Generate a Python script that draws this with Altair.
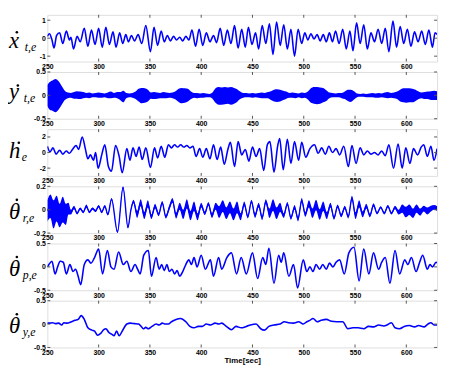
import altair as alt
import pandas as pd

BLUE = "#0000ff"
W, H = 396, 47.5
X_DOMAIN = [250, 630]
X_TICKS = [250, 300, 350, 400, 450, 500, 550, 600]

MAIN_LABELS = ["x", "y", "h", "\u03b8", "\u03b8", "\u03b8"]
SUB_LABELS = ["t,e", "t,e", "e", "r,e", "p,e", "y,e"]
Y_DOMAINS = [[-1.3, 1.3], [-0.5, 0.5], [-3, 3], [-0.2, 0.2], [-0.5, 0.5], [-0.5, 0.5]]
Y_TICKS = [[-1, 0, 1], [-0.5, 0, 0.5], [-2, 0, 2], [-0.2, 0, 0.2], [-0.5, 0, 0.5], [-0.5, 0, 0.5]]

# panel 1: x_dot (time, value) at read extrema
XDOT = [(250, 0.1), (252, 0.25), (254.5, -0.1), (256.5, -0.55), (259, 0.15), (262, 0.3), (265, -0.3),
        (268.5, 0.4), (271.5, -0.1), (273, 0.05), (275.5, -0.6), (279, 0.1), (282, -0.2), (286, 0.55),
        (289.5, -0.45), (293, 0.45), (296.5, -0.35), (300, 0.55), (303.5, -0.5), (307, 0.6), (310.5, -0.35),
        (314, 0.35), (317, -0.5), (320.5, 0.3), (323.5, -0.3), (326.5, 0.2), (329, -0.2), (332, 0.15),
        (335, -0.15), (338.5, 0.2), (342, -0.3), (346, 0.7), (350.5, -0.75), (354, 0.6), (357.5, -0.4),
        (361, 0.4), (364, -0.2), (367, 0.15), (370, -0.15), (373, 0.1), (376, -0.1), (379, 0.05),
        (382, -0.15), (385, 0.1), (388, -0.1), (391, 0.45), (394.5, -0.45), (398, 0.5), (401.5, -0.4),
        (405, 0.3), (408.5, -0.2), (412, 0.15), (415, -0.25), (418.5, 0.55), (422, -0.4), (425.5, 0.45),
        (429, -0.3), (432.5, 0.7), (436, -0.55), (439.5, 0.5), (443, -0.5), (446, 0.6), (449.5, -0.35),
        (453, 0.3), (456, -0.6), (459.5, 0.7), (463, -0.3), (466.5, 0.8), (470, -0.9), (473.5, 0.9),
        (477, -0.4), (480.5, 0.75), (484, -0.6), (487.5, 0.5), (491, -1.0), (494.5, 0.5), (498, -0.3),
        (501, 0.3), (504, -0.1), (507, 0.25), (510, -0.05), (513, 0.2), (516, -0.15), (519, 0.2),
        (522, -0.2), (525, 0.3), (528, -0.2), (531, 0.4), (534.5, -0.3), (538, 0.5), (541.5, -0.6),
        (545, 0.4), (548, -0.7), (551.5, 0.85), (555, -0.3), (558.5, 0.75), (562, -0.6), (565.5, 0.3),
        (569, -0.2), (572.5, 0.5), (576, -0.3), (579.5, 0.55), (583, -0.75), (587, 0.95), (590.5, -0.5),
        (594, 0.65), (597.5, -0.3), (601, 0.5), (604.5, -0.45), (608, 0.35), (611.5, -0.2), (615, 0.4),
        (618.5, -0.35), (622, 0.45), (625.5, -0.5), (628, 0.3), (630, 0.2)]

# panel 2: y_dot noise envelope (time, upper, lower)
YDOT = [(250, 0.22, -0.22), (252, 0.28, -0.3), (255, 0.32, -0.33), (258, 0.35, -0.36), (261, 0.3, -0.3),
        (264, 0.2, -0.2), (267, 0.1, -0.1), (270, 0.06, -0.06), (273, 0.05, -0.05), (276, 0.07, -0.07),
        (279, 0.09, -0.07), (282, 0.08, -0.08), (285, 0.07, -0.06), (288, 0.05, -0.05), (291, 0.06, -0.06),
        (294, 0.04, -0.04), (297, 0.05, -0.04), (300, 0.06, -0.05), (303, 0.05, -0.05), (306, 0.04, -0.04),
        (309, 0.06, -0.06), (312, 0.08, -0.06), (315, 0.05, -0.05), (318, 0.07, -0.06), (321, 0.07, -0.1),
        (324, 0.1, -0.15), (327, 0.05, -0.06), (330, 0.04, -0.04), (333, 0.05, -0.05), (336, 0.08, -0.08),
        (339, 0.14, -0.13), (342, 0.16, -0.17), (345, 0.15, -0.16), (348, 0.12, -0.13), (351, 0.06, -0.07),
        (354, 0.07, -0.08), (357, 0.06, -0.07), (360, 0.05, -0.06), (363, 0.07, -0.06), (366, 0.06, -0.06),
        (369, 0.05, -0.05), (372, 0.06, -0.06), (375, 0.09, -0.09), (378, 0.14, -0.14), (381, 0.16, -0.17),
        (384, 0.15, -0.16), (387, 0.14, -0.13), (390, 0.08, -0.08), (393, 0.05, -0.05), (396, 0.05, -0.06),
        (399, 0.04, -0.05), (402, 0.05, -0.05), (405, 0.04, -0.04), (408, 0.03, -0.04), (411, 0.06, -0.07),
        (414, 0.15, -0.16), (417, 0.18, -0.2), (420, 0.17, -0.2), (423, 0.18, -0.19), (426, 0.17, -0.18),
        (429, 0.18, -0.2), (432, 0.16, -0.18), (435, 0.13, -0.14), (438, 0.08, -0.08), (441, 0.05, -0.05),
        (444, 0.05, -0.04), (447, 0.04, -0.04), (450, 0.05, -0.05), (453, 0.04, -0.04), (456, 0.05, -0.05),
        (459, 0.06, -0.06), (462, 0.05, -0.06), (465, 0.07, -0.06), (468, 0.09, -0.1), (471, 0.12, -0.13),
        (474, 0.13, -0.14), (477, 0.12, -0.13), (480, 0.1, -0.1), (483, 0.08, -0.07), (486, 0.05, -0.05),
        (489, 0.06, -0.05), (492, 0.05, -0.06), (495, 0.04, -0.04), (498, 0.06, -0.06), (501, 0.05, -0.05),
        (504, 0.08, -0.09), (507, 0.15, -0.16), (510, 0.18, -0.18), (513, 0.18, -0.19), (516, 0.17, -0.18),
        (519, 0.16, -0.15), (522, 0.11, -0.12), (525, 0.06, -0.06), (528, 0.05, -0.04), (531, 0.04, -0.04),
        (534, 0.05, -0.04), (537, 0.05, -0.06), (540, 0.08, -0.08), (543, 0.12, -0.12), (546, 0.12, -0.14),
        (549, 0.09, -0.09), (552, 0.04, -0.04), (555, 0.03, -0.03), (558, 0.04, -0.03), (561, 0.03, -0.04),
        (564, 0.04, -0.04), (567, 0.05, -0.04), (570, 0.04, -0.05), (573, 0.05, -0.05), (576, 0.04, -0.04),
        (579, 0.06, -0.05), (582, 0.07, -0.06), (585, 0.05, -0.05), (588, 0.06, -0.06), (591, 0.08, -0.08),
        (594, 0.12, -0.13), (597, 0.15, -0.15), (600, 0.15, -0.16), (603, 0.15, -0.15), (606, 0.14, -0.15),
        (609, 0.12, -0.12), (612, 0.08, -0.08), (615, 0.06, -0.06), (618, 0.07, -0.08), (621, 0.08, -0.08),
        (624, 0.09, -0.1), (627, 0.1, -0.1), (630, 0.09, -0.1)]

# panel 3: h_dot
HDOT = [(250, 0.8), (252.5, 0.1), (255.5, 0.6), (258.5, -0.2), (262, 0.3), (265, -0.2), (268.5, 0.2),
        (271.5, -0.1), (275, 0.5), (278, 0.9), (280.5, 0.4), (284, 2.0), (287, 0.5), (289.5, -0.8),
        (292, -0.3), (295, -1.0), (297, 0.0), (299.5, -2.0), (303, -0.3), (306, 1.0), (309.5, -1.8),
        (312.5, -2.4), (316.5, 0.9), (320, -0.5), (323, -2.6), (327.5, 0.5), (330.5, -1.0), (333.5, 0.6),
        (336.5, -0.5), (339.5, 0.7), (342.5, -0.9), (346, 0.6), (350.5, -1.9), (354.5, 0.6), (357.5, -0.7),
        (361, 0.8), (364.5, -0.6), (368, 1.0), (371, 0.6), (374, 1.0), (377, 0.7), (380, 1.0), (383, 0.7),
        (386, 0.9), (389, 0.6), (392, 0.8), (395, -0.5), (398.5, 0.5), (401.5, -0.6), (405, 0.5),
        (408.5, -0.8), (412, 1.0), (415.5, -0.9), (419, 0.7), (422.5, -1.5), (426, 0.4), (428.5, 1.3),
        (432.5, -1.8), (436, 1.4), (439.5, -0.3), (443, 0.4), (446.5, -1.1), (450, 0.7), (453.5, -0.5),
        (457, 0.5), (461, -2.3), (464.5, 1.0), (467, 1.4), (471, -2.5), (474.5, 0.8), (476.5, 1.8),
        (480, -2.2), (484, 1.7), (487.5, -1.4), (491, 1.4), (495, -1.0), (498, 1.3), (502, -0.6),
        (506, 0.5), (510.5, 1.0), (514, -0.1), (517.5, 0.6), (521, -0.2), (524.5, 0.8), (528, 0.0),
        (531.5, 0.5), (535, -0.3), (539, 0.8), (543.5, -1.8), (547, 0.9), (551, -1.4), (555, 0.6),
        (558.5, -0.3), (562, 0.2), (565.5, -0.2), (569, 0.0), (572.5, -0.3), (576, 0.2), (579.5, -0.4),
        (583, 1.0), (587.5, -2.0), (592, 1.1), (596, -2.0), (599.5, 0.6), (603.5, -1.4), (607, 0.5),
        (611, -0.3), (614.5, 0.7), (617, 1.0), (620.5, -0.5), (624, 0.8), (627, -1.0), (630, 0.5)]

# panel 4: theta_r dot (time, centre, noise half-width)
THR = [(250, -0.01, 0.09), (253, 0.03, 0.1), (256, -0.04, 0.12), (259, 0.01, 0.11), (262, -0.05, 0.1),
       (265, 0.0, 0.11), (268, -0.04, 0.09), (270.5, 0.01, 0.05), (273, -0.02, 0.02), (276, 0.02, 0.015),
       (279, -0.03, 0.01), (282, 0.01, 0.01), (285, -0.02, 0.01), (288, 0.03, 0.015), (291, -0.02, 0.01),
       (294, 0.01, 0.01), (297, -0.01, 0.01), (300, 0.03, 0.01), (303, -0.02, 0.01), (306, 0.03, 0.01),
       (309, -0.04, 0.01), (312.6, 0.09, 0.01), (318.4, -0.19, 0.01), (323.8, 0.19, 0.01),
       (328.6, -0.15, 0.01), (331.5, 0.0, 0.01), (334, 0.07, 0.015), (337.5, -0.04, 0.03), (341, 0.06, 0.03),
       (344.5, -0.05, 0.03), (348, 0.05, 0.03), (351.5, -0.06, 0.02), (355, 0.03, 0.02), (358.5, -0.04, 0.015),
       (362, 0.06, 0.015), (365.5, -0.06, 0.015), (369, 0.02, 0.02), (372, 0.08, 0.02), (375.5, -0.05, 0.025),
       (379, 0.03, 0.03), (382.5, -0.04, 0.04), (386, 0.05, 0.04), (389.5, -0.05, 0.04), (393, 0.03, 0.04),
       (396.5, -0.06, 0.03), (400, 0.04, 0.02), (403.5, -0.03, 0.015), (407, 0.05, 0.015), (410.5, -0.05, 0.02),
       (414, 0.03, 0.03), (417.5, -0.02, 0.05), (421, 0.03, 0.05), (424.5, -0.03, 0.05), (428, 0.02, 0.05),
       (431.5, -0.04, 0.05), (435, 0.02, 0.05), (438.5, -0.06, 0.03), (442, 0.05, 0.02), (445.5, -0.06, 0.015),
       (449, 0.07, 0.015), (452.5, -0.05, 0.02), (456, 0.04, 0.02), (459.5, -0.07, 0.02), (463, 0.07, 0.02),
       (466.5, -0.03, 0.04), (470, 0.04, 0.05), (473.5, -0.03, 0.05), (477, 0.02, 0.04), (480.5, -0.05, 0.02),
       (484, 0.05, 0.015), (487.5, -0.07, 0.015), (491, 0.02, 0.02), (494.5, -0.08, 0.02), (498, 0.08, 0.02),
       (501.5, -0.04, 0.02), (505, 0.05, 0.03), (508.5, -0.03, 0.04), (512, 0.04, 0.045), (515.5, -0.04, 0.045),
       (519, 0.03, 0.04), (522.5, -0.05, 0.03), (526, 0.04, 0.02), (529.5, -0.07, 0.015), (533, 0.03, 0.015),
       (536.5, -0.05, 0.015), (540, 0.02, 0.015), (543.5, -0.06, 0.015), (547, 0.1, 0.02), (550.5, -0.05, 0.03),
       (554, 0.05, 0.03), (557.5, -0.04, 0.025), (561, 0.03, 0.02), (564.5, -0.05, 0.015), (568, 0.04, 0.015),
       (571.5, -0.03, 0.01), (575, 0.02, 0.01), (578.5, -0.03, 0.01), (582, 0.03, 0.01), (585.5, -0.03, 0.01),
       (589, 0.02, 0.015), (592.5, -0.02, 0.02), (596, 0.01, 0.035), (599.5, -0.02, 0.045), (603, 0.0, 0.045),
       (606.5, -0.03, 0.04), (610, 0.01, 0.035), (613.5, -0.02, 0.03), (617, 0.01, 0.025), (620.5, -0.01, 0.03),
       (624, 0.01, 0.025), (627, 0.02, 0.02), (630, 0.01, 0.02)]

# panel 5: theta_p dot
THP = [(250, 0.0), (251.5, 0.05), (254.5, 0.12), (257.5, -0.15), (260, 0.0), (262.5, 0.12), (265.5, 0.1),
       (268.5, -0.15), (272, 0.05), (275, -0.1), (277.5, -0.05), (280, -0.2), (282.5, -0.38), (286, 0.05),
       (289.5, 0.15), (292.5, 0.08), (296, 0.2), (300, 0.38), (303.8, -0.15), (308.5, 0.35), (312, 0.0),
       (315, -0.05), (319.5, 0.32), (324, 0.05), (327.5, 0.12), (331.5, -0.1), (335.5, 0.05), (338, -0.05),
       (340.5, -0.15), (344, 0.25), (348.5, 0.35), (351.5, -0.2), (356, 0.2), (359, -0.05), (361.5, 0.05),
       (364, -0.08), (366.5, 0.05), (369, -0.1), (371.5, -0.05), (374, -0.15), (376.5, -0.08), (379, -0.2),
       (382, -0.1), (385, 0.05), (388, 0.15), (390.5, 0.05), (393, 0.2), (396, 0.0), (400, 0.25),
       (404, -0.05), (409, 0.15), (412, -0.2), (417, 0.2), (420, -0.05), (425, 0.2), (429.5, 0.3),
       (434.5, -0.15), (439, 0.2), (444, -0.15), (450, 0.3), (455, -0.25), (460, 0.2), (463, 0.05),
       (466, 0.4), (471, -0.35), (475.5, 0.25), (478, 0.1), (480.5, 0.3), (485.5, -0.2), (490, 0.05),
       (494, -0.45), (499.5, 0.15), (503, -0.1), (506, 0.0), (509, -0.1), (512, 0.05), (515.5, -0.05),
       (518.5, 0.05), (522, -0.05), (525, 0.08), (528.5, 0.0), (531.5, 0.1), (535, 0.15), (539.5, -0.15),
       (544, 0.3), (549, 0.42), (554, -0.3), (558.5, 0.38), (563.5, -0.15), (568, 0.3), (573, -0.05),
       (576, 0.1), (579.5, 0.2), (584, -0.35), (589, 0.35), (593.5, -0.15), (598.5, 0.15), (601.5, 0.05),
       (605, 0.2), (609.5, -0.1), (613, 0.1), (616, 0.25), (620.5, -0.05), (623, 0.05), (625.5, 0.0),
       (629, 0.1), (630, 0.08)]

# panel 6: theta_y dot
THY = [(250, 0.03), (251.5, 0.02), (255, 0.03), (258, 0.01), (261, 0.02), (264, -0.02), (266, 0.03),
       (269, 0.02), (273.5, 0.05), (277, 0.08), (280, 0.1), (283, 0.18), (286, 0.1), (289.5, -0.08),
       (293.5, -0.13), (296, -0.15), (299, -0.24), (302, -0.2), (305, -0.12), (307, -0.1), (310, -0.18),
       (313, -0.22), (315, -0.25), (317.5, -0.15), (320, -0.25), (323, -0.15), (327.5, 0.0), (331, 0.02),
       (335, 0.01), (339, 0.0), (341.5, -0.05), (343.5, -0.1), (346, -0.07), (348.5, -0.1), (352, -0.05),
       (356, 0.0), (359, -0.02), (362, 0.02), (365, 0.0), (368, 0.0), (371, 0.05), (375.5, 0.1), (380, 0.12),
       (385, 0.05), (389, -0.05), (393, -0.08), (397, -0.05), (401, -0.05), (405, 0.0), (409, -0.02),
       (413.5, 0.02), (417, 0.0), (420, 0.02), (424.5, -0.05), (429.5, -0.12), (434, -0.05), (439, -0.08),
       (444, -0.05), (448, -0.02), (453.5, 0.0), (458, -0.1), (461.5, -0.13), (466, -0.05), (471, -0.02),
       (477, 0.0), (481, 0.05), (485, 0.03), (490, 0.02), (495, 0.05), (499.5, 0.0), (503, 0.05),
       (506, 0.08), (509, 0.12), (513, 0.05), (517, 0.08), (522, 0.1), (527, 0.06), (532, 0.05), (538, 0.05),
       (543, -0.1), (548, -0.08), (553, -0.08), (558.5, -0.1), (563, -0.05), (568, -0.06), (573, -0.02),
       (578, -0.04), (582, -0.01), (585.5, 0.03), (589, -0.08), (593.5, -0.1), (598, -0.05), (603, -0.03),
       (608, -0.06), (612, -0.03), (617.5, -0.06), (621, 0.0), (624, 0.03), (627, -0.02), (630, -0.02)]

SUB_DX = [16, 15, 13, 14, 14, 14]
BASE_DY = [10, 4, 6, 9, 9, 9]
DOT_DX = [8, 9, 10, 8, 8, 8]
DOT_DY = [-16, -14, -16, -19, -19, -19]


def xenc(last):
    scale = alt.Scale(domain=X_DOMAIN, nice=False, zero=False)
    ax = alt.Axis(values=X_TICKS, labelFlush=False, domain=False, ticks=False, grid=False,
                  labelPadding=1, labelFontSize=7, labelFontWeight="bold", labelFont="Liberation Sans",
                  labelColor="black", title="Time[sec]" if last else None, titleFontSize=8,
                  titleFontWeight="bold", titleFont="Liberation Sans", titlePadding=1, titleColor="black")
    return alt.X("t:Q", scale=scale, axis=ax)


def yenc(i, field="v"):
    scale = alt.Scale(domain=Y_DOMAINS[i], nice=False, zero=False)
    ax = alt.Axis(values=Y_TICKS[i], labelExpr="toString(datum.value)", domain=False, ticks=False,
                  grid=False, title=None, labelPadding=2, labelFontSize=7, labelFontWeight="bold",
                  labelFont="Liberation Sans", labelColor="black")
    return alt.Y(f"{field}:Q", scale=scale, axis=ax)


def decorations(i):
    last = i == 5
    xt = pd.DataFrame({"t": X_TICKS[1:]})
    yt = pd.DataFrame({"v": Y_TICKS[i]})
    lab = pd.DataFrame({"main": [MAIN_LABELS[i]], "sub": [SUB_LABELS[i]]})
    tick_style = dict(color="#555555", strokeWidth=1)
    base_y = H / 2 + BASE_DY[i]
    text_style = dict(font="Liberation Serif", fontStyle="italic", align="left", baseline="alphabetic",
                      color="black")
    layers = [
        alt.Chart(xt).mark_rule(**tick_style).encode(x=xenc(last), y=alt.value(0), y2=alt.value(3)),
        alt.Chart(xt).mark_rule(**tick_style).encode(x=xenc(last), y=alt.value(H - 3), y2=alt.value(H)),
        alt.Chart(yt).mark_rule(**tick_style).encode(y=yenc(i), x=alt.value(0), x2=alt.value(3)),
        alt.Chart(yt).mark_rule(**tick_style).encode(y=yenc(i), x=alt.value(W - 3), x2=alt.value(W)),
        alt.Chart(lab).mark_text(fontSize=23, **text_style).encode(
            x=alt.value(-39), y=alt.value(base_y), text="main:N"),
        alt.Chart(lab).mark_circle(size=7, color="black", opacity=1).encode(
            x=alt.value(-39 + DOT_DX[i]), y=alt.value(base_y + DOT_DY[i])),
        alt.Chart(lab).mark_text(fontSize=12, **text_style).encode(
            x=alt.value(-39 + SUB_DX[i]), y=alt.value(base_y + 3), text="sub:N"),
    ]
    return layers


def line_panel(i, series):
    df = pd.DataFrame(series, columns=["t", "v"])
    last = i == 5
    line = alt.Chart(df).mark_line(color=BLUE, strokeWidth=1.6, interpolate="monotone", clip=True).encode(
        x=xenc(last), y=yenc(i))
    return alt.layer(line, *decorations(i)).properties(width=W, height=H)


def band_panel_sym(i, series):
    df = pd.DataFrame(series, columns=["t", "v", "lo"])
    area = alt.Chart(df).mark_area(color=BLUE, opacity=1, interpolate="monotone", clip=True).encode(
        x=xenc(False), y=yenc(i), y2="lo:Q")
    return alt.layer(area, *decorations(i)).properties(width=W, height=H)


def band_panel_centre(i, series):
    df = pd.DataFrame(series, columns=["t", "v", "hw"])
    df["up"] = df["v"] + df["hw"]
    df["lo"] = df["v"] - df["hw"]
    area = alt.Chart(df).mark_area(color=BLUE, opacity=1, interpolate="monotone", clip=True).encode(
        x=xenc(False), y=yenc(i, "up"), y2="lo:Q")
    line = alt.Chart(df).mark_line(color=BLUE, strokeWidth=1.4, interpolate="monotone", clip=True).encode(
        x=xenc(False), y=yenc(i, "v"))
    return alt.layer(area, line, *decorations(i)).properties(width=W, height=H)


panels = [
    line_panel(0, XDOT),
    band_panel_sym(1, YDOT),
    line_panel(2, HDOT),
    band_panel_centre(3, THR),
    line_panel(4, THP),
    line_panel(5, THY),
]

chart = alt.vconcat(*panels, spacing=10.1, bounds="flush").properties(
    padding={"left": 0, "top": 3, "right": 4, "bottom": 2}
).configure_view(stroke="black", strokeWidth=1).configure(background="white")

chart.save("out.html", embed_options={"renderer": "svg", "actions": False})
